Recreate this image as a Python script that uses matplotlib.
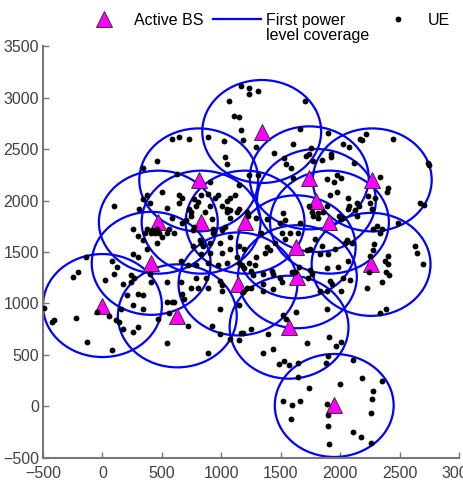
import numpy as np
import matplotlib.pyplot as plt
from matplotlib.patches import Circle
from matplotlib.lines import Line2D

plt.rcParams['font.family'] = ['Liberation Sans', 'DejaVu Sans']
plt.rcParams['font.size'] = 11.5

# active base stations (m)
bs_x = [0, 630, 410, 470, 830, 810, 1340, 1200, 1140, 1570, 1630, 1640,
        1740, 1800, 1910, 2270, 2260, 1950]
bs_y = [980, 880, 1390, 1790, 1790, 2200, 2670, 1790, 1190, 770, 1550, 1260,
        2220, 2000, 1790, 2200, 1380, 10]
radius = 500  # first power level coverage radius

# user equipment (m), read zone by zone
ue_x = [
    # west
    101, -135, 84, 126, -244, -202, -488, -421, -404, -219, -126, 84, 25, 101, 177, 160, 51, 118, 143, 177, 210, -42,
    # north-west
    1162, 1237, 1237, 1305, 1061, 1103, 1145, 1162, 1179, 1296, 581, 648, 724, 884, 1019, 1035, 1052, 463, 337, 631,
    1237, 1305, 901, 1153,
    # north-east
    1700, 1658, 1894, 1599, 1751, 1440, 2020, 2071, 2163, 2180, 2214, 2441, 1709, 1734, 1524, 1541, 1583, 1919, 1919,
    1843, 1768, 2113, 1599, 1970, 2003, 1886, 1945, 2332, 2399, 2736, 2744,
    # centre-west
    379, 337, 396, 505, 648, 673, 648, 547, 774, 800, 791, 901, 833, 968, 943, 884, 1044, 1069, 1002, 1111, 1044, 1069,
    1052, 732, 749, 749, 859, 1153, 1136, 1212, 1221, 1296,
    379, 421, 455, 480, 412, 438, 354, 564, 547, 606, 505, 463, 295, 337, 253, 673, 707, 758, 774, 817, 833, 842, 758,
    926, 926, 1002, 1027, 901, 985, 1002, 1069, 1153, 1195, 1069, 901, 833,
    665, 716, 791, 884, 968, 1044, 1136, 1153, 1170, 1237, 1195, 253, 295, 244, 269, 244, 396, 412, 547, 665, 791, 875,
    749, 985, 1002, 1254, 1263, 1280, 1296, 1212, 1254, 1179, 884, 800, 1010, 295, 673, 311, 918, 589, 379, 1069,
    # centre-east
    1911, 1970, 2062, 2071, 2062, 2138, 2155, 2248, 2264, 2231, 2290, 2391, 2668, 2702, 2020, 2003, 1987, 2121, 2138,
    2307, 2273, 2349, 2332, 2483, 2626, 2643, 2399, 2374, 2399, 2248, 2273, 2281, 2407, 2349,
    1515, 1532, 1490, 1381, 1759, 1768, 1810, 1852, 1810, 1734, 1886, 1658, 1642, 1574, 1507, 1532, 1448, 1381, 1406,
    1364, 1338, 1785, 1843, 2037, 2054, 2096, 1953, 1894, 1827, 1743, 1717,
    2062, 1978, 1886, 1743, 1759, 1726, 1591, 1616, 1490, 1507, 1423, 1431, 1347, 1347, 1911, 1928, 2020, 2079, 1827,
    1886, 2222, 2694, 2382, 2239, 1650, 2003, 1431, 1347,
    # south-west
    253, 345, 547, 581, 606, 682, 564, 716, 547, 295, 253, 471, 985, 918, 993, 892, 1069, 1153, 1162, 1179, 1254, 1145,
    345,
    # south-east
    1515, 1541, 1625, 1886, 2332, 2382, 1397, 1347, 1431, 1717, 1902, 1961, 2003, 1894, 1877, 1482, 1524, 1566, 1642,
    2104, 1642, 1734, 1995, 2180, 2349, 2273, 2264, 2256, 1515, 1591, 1658, 1886, 1894, 1583, 1894, 2104, 2172, 2256,
    1902,
]
ue_y = [
    # west
    1942, 1447, 1417, 1359, 1262, 1301, 961, 816, 835, 864, 631, 544, 1233, 1291, 1194, 942, 874, 835, 816, 748, 1078, 913,
    # north-west
    3107, 3097, 3039, 3068, 2971, 2816, 2806, 2689, 2583, 2515, 2602, 2612, 2602, 2612, 2573, 2427, 2350, 2379, 2311,
    2253, 2243, 2243, 2175, 2146,
    # north-east
    2971, 2699, 2651, 2544, 2505, 2466, 2553, 2524, 2602, 2583, 2641, 2602, 2437, 2447, 2408, 2359, 2311, 2456, 2427,
    2398, 2379, 2369, 2214, 2243, 2214, 2204, 2175, 2233, 2117, 2369, 2340,
    # centre-west
    2049, 2019, 1971, 2078, 2049, 2029, 1971, 1932, 2019, 1981, 1951, 1951, 2049, 2049, 2029, 2068, 2000, 2029, 1951,
    2049, 1922, 1903, 1884, 1922, 1884, 1854, 1884, 1922, 1884, 1884, 1854, 1835,
    1728, 1709, 1728, 1689, 1680, 1680, 1689, 1728, 1680, 1689, 1641, 1592, 1660, 1612, 1728, 1777, 1806, 1709, 1738,
    1612, 1592, 1563, 1563, 1680, 1728, 1709, 1738, 1583, 1583, 1495, 1641, 1563, 1534, 1534, 1495, 1485,
    1417, 1369, 1369, 1398, 1369, 1398, 1447, 1398, 1369, 1398, 1340, 1485, 1447, 1272, 1243, 1204, 1291, 1204, 1204,
    1204, 1243, 1243, 1155, 1223, 1175, 1320, 1272, 1369, 1447, 1155, 1146, 1107, 1146, 1155, 1126, 1097, 1097, 1922,
    1825, 1835, 1534, 1835,
    # centre-east
    2049, 2078, 2029, 1951, 1922, 1971, 1942, 1971, 1922, 2039, 2029, 2078, 1971, 1961, 1835, 1825, 1854, 1903, 1854,
    1757, 1728, 1728, 1680, 1786, 1563, 1495, 1466, 1417, 1388, 1466, 1515, 1573, 1272, 1204,
    1874, 1806, 1786, 1825, 1893, 1854, 1874, 1884, 1835, 1951, 1951, 1777, 1689, 1689, 1680, 1631, 1592, 1544, 1515,
    1495, 1689, 1631, 1563, 1592, 1612, 1583, 1534, 1485, 1485, 1534, 1515,
    1417, 1350, 1340, 1330, 1291, 1243, 1301, 1301, 1252, 1204, 1320, 1291, 1291, 1126, 1223, 1194, 1243, 1233, 1126,
    1126, 1155, 1388, 1301, 1301, 1350, 1126, 1136, 1194,
    # south-west
    981, 942, 1010, 1019, 1019, 1039, 903, 777, 612, 767, 728, 854, 951, 777, 699, 515, 660, 990, 718, 709, 757, 641,
    1078,
    # south-east
    884, 845, 913, 942, 903, 942, 699, 524, 563, 621, 670, 592, 631, 495, 427, 408, 437, 398, 427, 447, 282, 175, 214,
    272, 243, 146, 68, -68, 49, 19, 49, 29, -87, -126, -194, -243, -301, -359, -369,
]

blue = '#0000ff'
magenta = '#ff00ff'

fig = plt.figure(figsize=(4.64, 5.03), dpi=100)
ax = fig.add_axes([0.0927, 0.0895, 0.8966, 0.819])

for x, y in zip(bs_x, bs_y):
    ax.add_patch(Circle((x, y), radius, fill=False, edgecolor=blue, linewidth=1.6, zorder=2))
ax.plot(bs_x, bs_y, '^', markersize=11, markerfacecolor=magenta, markeredgecolor='#333333',
        markeredgewidth=0.7, zorder=2.5)
ax.plot(ue_x, ue_y, 'o', color='black', markersize=4.2, markeredgewidth=0, zorder=3)

ax.set_xlim(-500, 3000)
ax.set_ylim(-500, 3500)
ax.set_xticks(np.arange(-500, 3001, 500))
ax.set_yticks(np.arange(-500, 3501, 500))
ax.spines[['top', 'right']].set_visible(False)
for side in ['left', 'bottom']:
    ax.spines[side].set_color('#777777')
    ax.spines[side].set_linewidth(1.5)
ax.tick_params(direction='in', length=4, width=1, colors='#777777', labelcolor='#404040')
ax.tick_params(axis='x', pad=6)
ax.tick_params(axis='y', pad=3)

# legend across the top, one entry per column
h_bs = Line2D([], [], marker='^', ls='none', markersize=11, markerfacecolor=magenta,
              markeredgecolor='#333333', markeredgewidth=0.7)
h_cov = Line2D([], [], color=blue, linewidth=1.6)
h_ue = Line2D([], [], marker='o', ls='none', color='black', markersize=4.2, markeredgewidth=0)
legends = []
for h, lab, x0 in [(h_bs, 'Active BS', 0.1724), (h_cov, 'First power', 0.459), (h_ue, 'UE', 0.806)]:
    leg = fig.legend([h], [lab], loc='center left', bbox_to_anchor=(x0, 0.9602), frameon=False,
                     borderpad=0, borderaxespad=0, handlelength=3, handletextpad=0.35)
    legends.append(leg)

fig.canvas.draw()
bb = legends[1].get_texts()[0].get_window_extent()
fig.text(bb.x0 / fig.bbox.width, bb.y0 / fig.bbox.height, 'level coverage', ha='left', va='top')

fig.savefig('out.png', dpi=100)
